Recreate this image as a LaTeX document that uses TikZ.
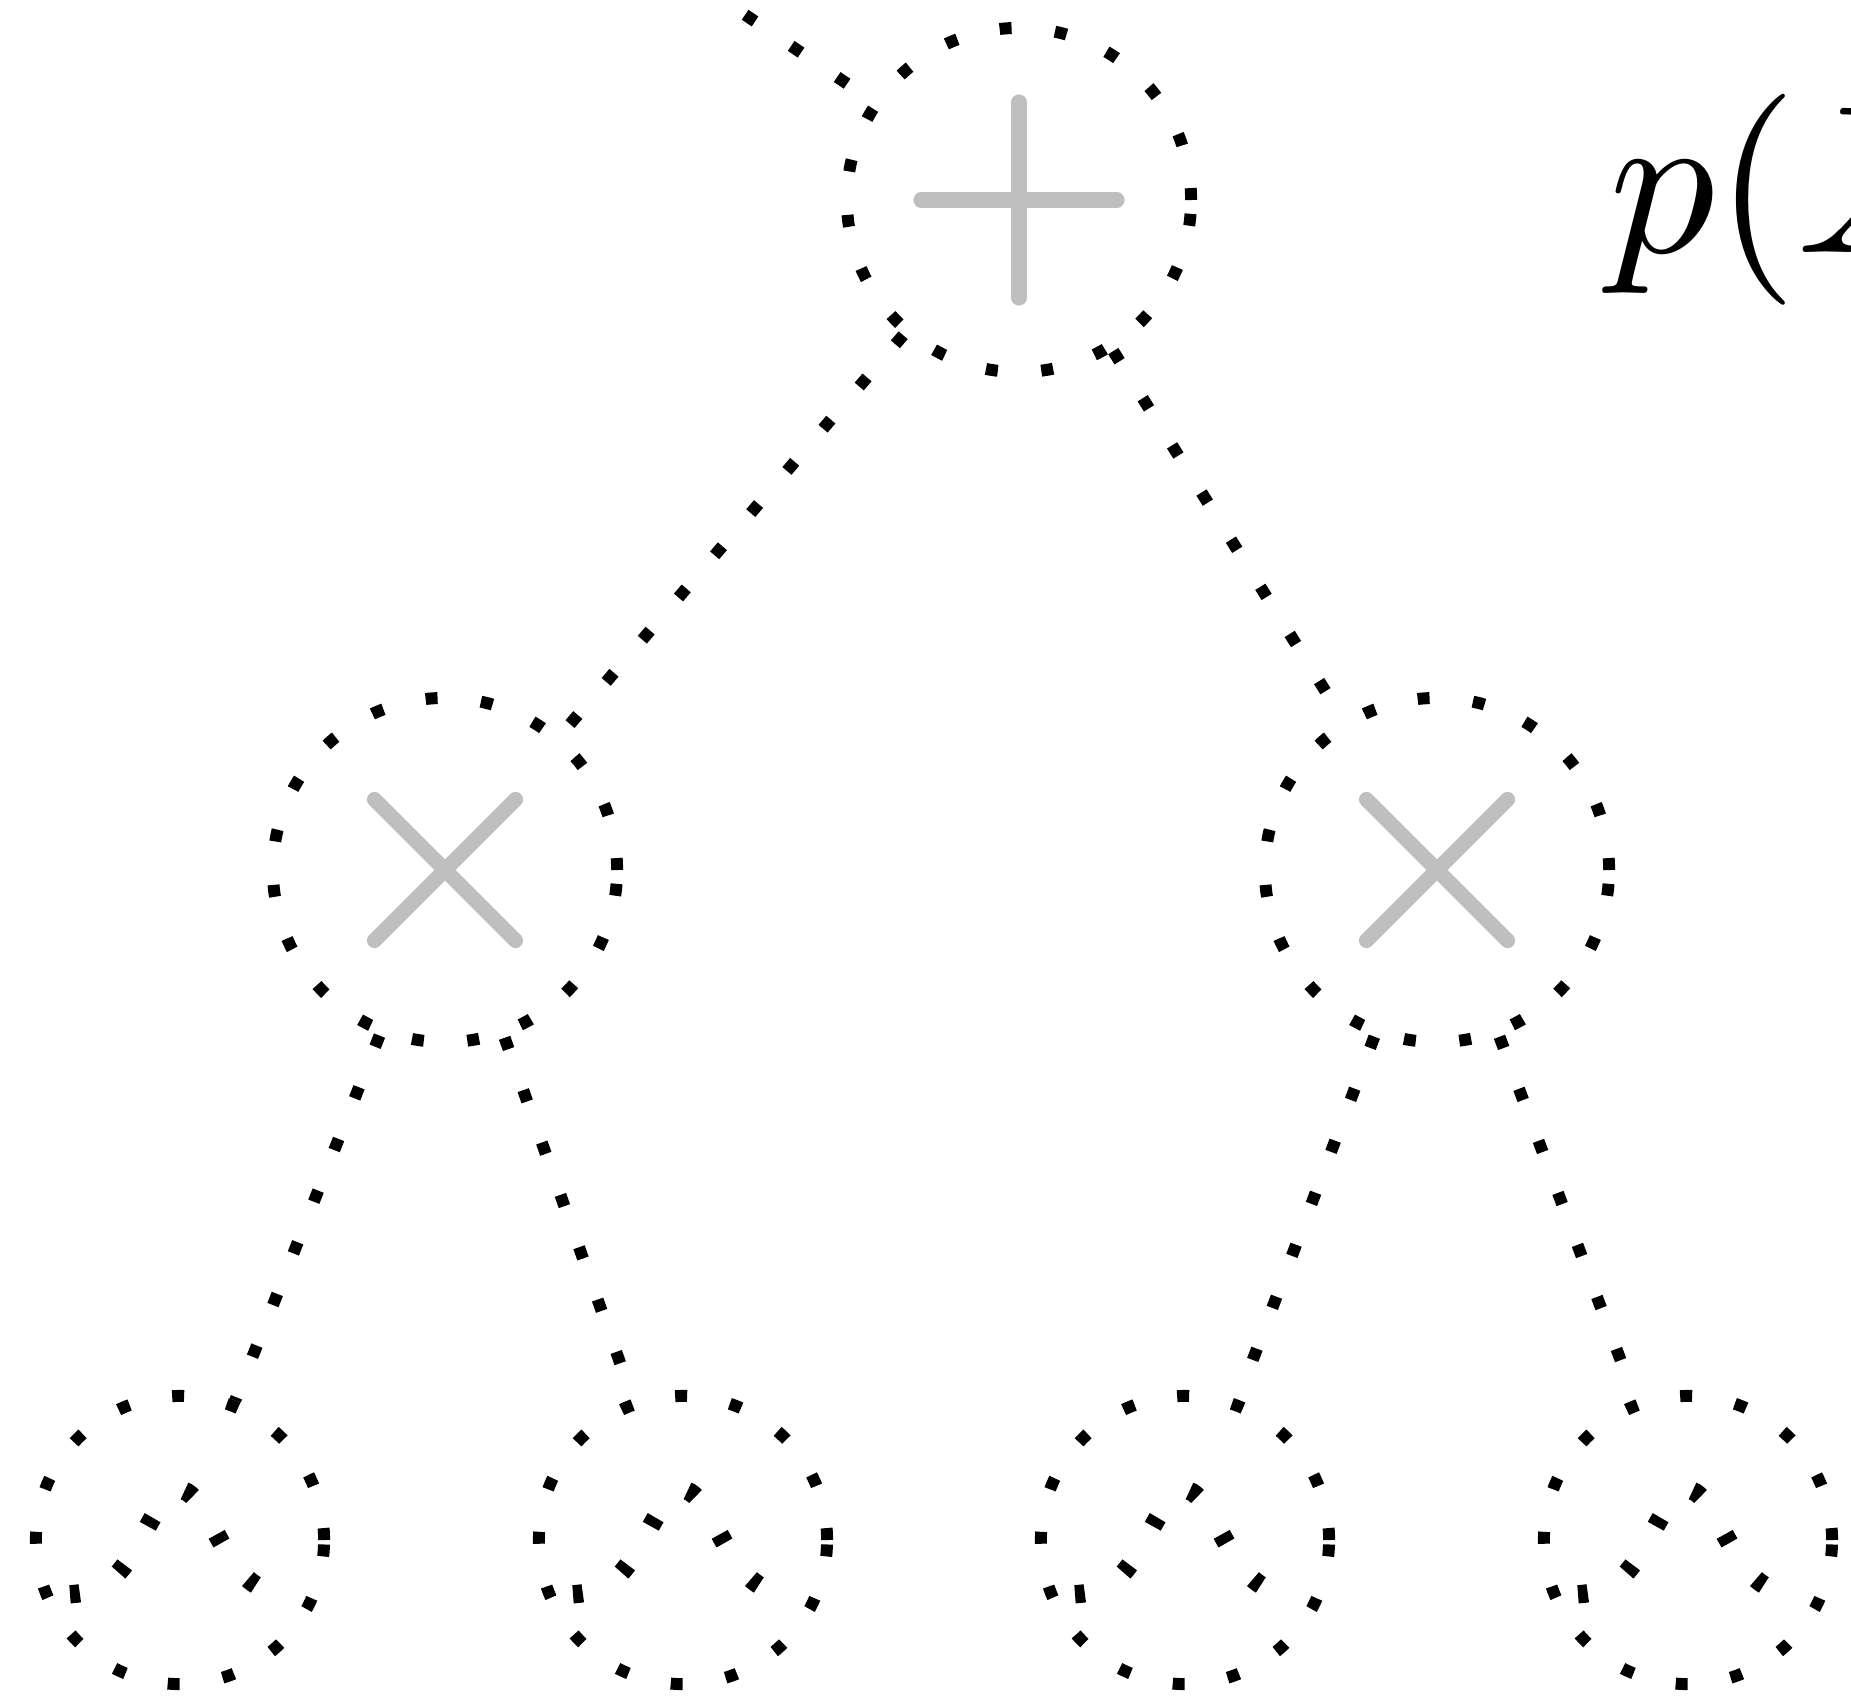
\documentclass[tikz,border=0pt]{standalone}
\begin{document}
\begin{tikzpicture}[x=0.01cm,y=-0.01cm,
  dotline/.style={line width=3.4pt, dash pattern=on 3.4pt off 12.4pt},
  opnode/.style={circle, draw, dotline, minimum size=3.44cm, inner sep=0pt},
  leafnode/.style={circle, draw, dotline, minimum size=2.88cm, inner sep=0pt},
  conn/.style={draw, dotline},
  opsym/.style={line width=4.3pt, line cap=round, color=lightgray},
  leafcurve/.style={line width=5.2pt, dash pattern=on 2.8pt off 12.8pt}
]
\useasboundingbox (0,0) rectangle (1851,1696);
\clip (0,0) rectangle (1851,1696);
% nodes
\node[opnode] (S) at (1019,200) {};
\node[opnode] (P1) at (445,870) {};
\node[opnode] (P2) at (1437,870) {};
\node[leafnode] (L1) at (180,1540) {};
\node[leafnode] (L2) at (683,1540) {};
\node[leafnode] (L3) at (1185,1540) {};
\node[leafnode] (L4) at (1688,1540) {};
\coordinate (R) at (469,-172);
% connectors
\draw[conn] (R) -- (S);
\draw[conn] (S) -- (P1);
\draw[conn] (S) -- (P2);
\draw[conn] (P1) -- (L1);
\draw[conn] (P1) -- (L2);
\draw[conn] (P2) -- (L3);
\draw[conn] (P2) -- (L4);
% operator symbols
\draw[opsym] ([xshift=-0.98cm]S.center) -- ([xshift=0.98cm]S.center);
\draw[opsym] ([yshift=0.98cm]S.center) -- ([yshift=-0.98cm]S.center);
\foreach \P in {P1,P2}{
  \draw[opsym] ([xshift=-0.705cm,yshift=0.705cm]\P.center) -- ([xshift=0.705cm,yshift=-0.705cm]\P.center);
  \draw[opsym] ([xshift=-0.705cm,yshift=-0.705cm]\P.center) -- ([xshift=0.705cm,yshift=0.705cm]\P.center);
}
% leaf densities
\foreach \L in {L1,L2,L3,L4}{
  \draw[leafcurve, shift={(\L.center)}] plot[domain=-110:110, samples=61, smooth] (\x, {55-105*exp(-0.5*(\x/35)^2)});
}
% label
\node[anchor=base west, inner sep=0pt, scale=6] (T) at (1605,252) {$p(X)$};
\end{tikzpicture}
\end{document}
